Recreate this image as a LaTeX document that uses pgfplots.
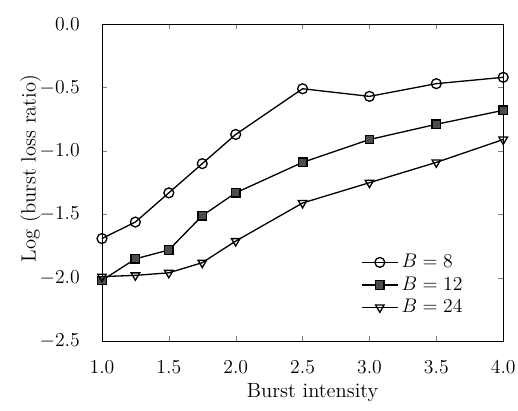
\documentclass[border=0pt]{standalone}
\usepackage{pgfplots}
\pgfplotsset{compat=1.18}
\begin{document}
\begin{tikzpicture}
\begin{axis}[
  scale only axis,
  width=244pt, height=193pt,
  xmin=1, xmax=4, ymin=-2.5, ymax=0,
  xtick={1,1.5,...,4}, ytick={-2.5,-2,...,0},
  xticklabel={\pgfmathprintnumber[fixed,fixed zerofill,precision=1]{\tick}},
  yticklabel={\pgfmathprintnumber[fixed,fixed zerofill,precision=1]{\tick}},
  tick label style={font=\fontsize{12.5}{14}\selectfont},
  label style={font=\fontsize{12.5}{14}\selectfont},
  xticklabel shift=8pt,
  yticklabel shift=10pt,
  xlabel style={at={(axis description cs:0.525,-0.162)}, anchor=center},
  ylabel style={at={(axis description cs:-0.178,0.545)}, anchor=center},
  tick align=inside, major tick length=3pt,
  xlabel={Burst intensity}, ylabel={Log (burst loss ratio)},
  legend style={draw=none, fill=none, at={(0.92,0.06)}, anchor=south east, row sep=0pt, font=\fontsize{12.5}{14}\selectfont},
  legend cell align=left,
  legend image code/.code={\draw[mark repeat=2,mark phase=2] plot coordinates {(0cm,0cm) (0.38cm,0cm) (0.76cm,0cm)};},
]
\addplot[black, thick, mark=o, mark size=3pt, mark options={solid, thick, fill=white}] coordinates {(1,-1.69) (1.25,-1.56) (1.5,-1.33) (1.75,-1.10) (2,-0.87) (2.5,-0.51) (3,-0.57) (3.5,-0.47) (4,-0.42)};
\addlegendentry{$B=8$}
\addplot[black, thick, mark=square*, mark size=2.6pt, mark options={solid, thick, fill=gray!60!black}] coordinates {(1,-2.02) (1.25,-1.85) (1.5,-1.78) (1.75,-1.51) (2,-1.33) (2.5,-1.09) (3,-0.91) (3.5,-0.79) (4,-0.68)};
\addlegendentry{$B=12$}
\addplot[black, thick, mark=triangle, mark size=3pt, mark options={solid, thick, rotate=180, fill=white}] coordinates {(1,-1.99) (1.25,-1.98) (1.5,-1.96) (1.75,-1.88) (2,-1.71) (2.5,-1.41) (3,-1.25) (3.5,-1.09) (4,-0.91)};
\addlegendentry{$B=24$}
\end{axis}
\pgfresetboundingbox
\path ([shift={(-62pt,-42pt)}]current axis.south west) rectangle ([shift={(9pt,14.6pt)}]current axis.north east);
\end{tikzpicture}
\end{document}
